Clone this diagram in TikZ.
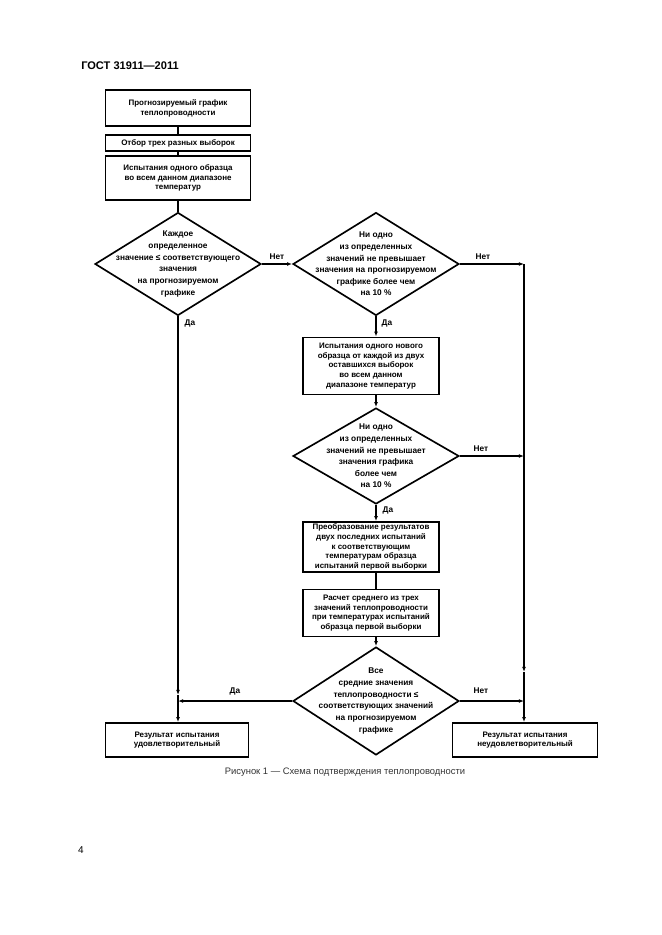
\documentclass[tikz,border=0pt]{standalone}
\usepackage{fontspec}
\setmainfont{Liberation Sans}
\usetikzlibrary{shapes.geometric,arrows.meta}

\begin{document}
\begin{tikzpicture}[x=0.3177mm, y=-0.3177mm, line width=1.5pt,
	box/.style={draw, align=center, inner sep=0pt, font=\fontsize{7.2}{8.8}\selectfont\bfseries},
	dia/.style={draw, diamond, inner sep=0pt},
	dtext/.style={align=center, inner sep=0pt, font=\fontsize{7.5}{10.5}\selectfont\bfseries},
	lbl/.style={font=\fontsize{7.5}{9}\selectfont\bfseries, inner sep=0pt},
	arr/.style={-{Latex[length=1.6mm,width=1.2mm]}}]
	\newcommand{\pu}{0.3177mm}
	\useasboundingbox (0,0) rectangle (661,935);
	\node[font=\fontsize{10}{12}\selectfont\bfseries] (head) at (130,66) {ГОСТ 31911—2011};

	% left column
	\node[box, minimum width=145*\pu, minimum height=36*\pu] (b1) at (178,108)
		{Прогнозируемый график\\теплопроводности};
	\node[box, minimum width=145*\pu, minimum height=16*\pu] (b2) at (178,143)
		{Отбор трех разных выборок};
	\node[box, minimum width=145*\pu, minimum height=44*\pu] (b3) at (178,178)
		{Испытания одного образца\\во всем данном диапазоне\\температур};
	\node[dia, minimum width=166*\pu, minimum height=103*\pu] (d1) at (178,264) {};
	\node[dtext] at (d1) {Каждое\\определенное\\значение ≤ соответствующего\\значения\\на прогнозируемом\\графике};

	% middle column
	\node[dia, minimum width=166*\pu, minimum height=103*\pu] (d2) at (376,264) {};
	\node[dtext] at (d2) {Ни одно\\из определенных\\значений не превышает\\значения на прогнозируемом\\графике более чем\\на 10 \%};
	\node[box, minimum width=136*\pu, minimum height=57*\pu] (b4) at (371,366)
		{Испытания одного нового\\образца от каждой из двух\\оставшихся выборок\\во всем данном\\диапазоне температур};
	\node[dia, minimum width=166*\pu, minimum height=96*\pu] (d3) at (376,456) {};
	\node[dtext] at (d3) {Ни одно\\из определенных\\значений не превышает\\значения графика\\более чем\\на 10 \%};
	\node[box, minimum width=136*\pu, minimum height=50*\pu] (b5) at (371,547)
		{Преобразование результатов\\двух последних испытаний\\к соответствующим\\температурам образца\\испытаний первой выборки};
	\node[box, minimum width=136*\pu, minimum height=47*\pu] (b6) at (371,613)
		{Расчет среднего из трех\\значений теплопроводности\\при температурах испытаний\\образца первой выборки};
	\node[dia, minimum width=166*\pu, minimum height=108*\pu] (d4) at (376,701) {};
	\node[dtext] at (d4) {Все\\средние значения\\теплопроводности ≤\\соответствующих значений\\на прогнозируемом\\графике};

	% results
	\node[box, minimum width=143*\pu, minimum height=34*\pu] (b7) at (177,740)
		{Результат испытания\\удовлетворительный};
	\node[box, minimum width=145*\pu, minimum height=34*\pu] (b8) at (525,740)
		{Результат испытания\\неудовлетворительный};

	\coordinate (r1) at (524,264); \coordinate (r2) at (524,456);
	\coordinate (r3) at (524,701); \coordinate (r4) at (524,672);
	\coordinate (l1) at (178,695); \coordinate (l2) at (178,701);

	% connectors
	\draw (b1) -- (b2) -- (b3) -- (d1);
	\draw[arr] (d1.east) -- (d2.west);
	\draw[arr] (d2.east) -- (r1);
	\draw[arr] (d2.south) -- (d2.south |- b4.north);
	\draw[arr] (d3.north |- b4.south) -- (d3.north);
	\draw[arr] (d3.east) -- (r2);
	\draw[arr] (d3.south) -- (d3.south |- b5.north);
	\draw (d3.south |- b5.south) -- (d3.south |- b6.north);
	\draw[arr] (d4.north |- b6.south) -- (d4.north);
	\draw[arr] (d4.west) -- (l2);
	\draw[arr] (d4.east) -- (r3);
	\draw[arr] (d1.south) -- (l1);
	\draw[arr] (l1) -- (l1 |- b7.north);
	\draw (r1) -- (r2);
	\draw[arr] (r2) -- (r4);
	\draw (r4) -- (r3);
	\draw[arr] (r3) -- (r3 |- b8.north);

	% labels
	\node[lbl] at (277,257) {Нет};
	\node[lbl] at (483,257) {Нет};
	\node[lbl] at (190,323) {Да};
	\node[lbl] at (387,323) {Да};
	\node[lbl] at (481,449) {Нет};
	\node[lbl] at (388,510) {Да};
	\node[lbl] at (235,691) {Да};
	\node[lbl] at (481,691) {Нет};

	\node[font=\fontsize{8.5}{10}\selectfont, text=black!80] (cap) at (345,772)
		{Рисунок 1 — Схема подтверждения теплопроводности};
	\node[font=\fontsize{9}{11}\selectfont] (page) at (81,850) {4};
\end{tikzpicture}
\end{document}
